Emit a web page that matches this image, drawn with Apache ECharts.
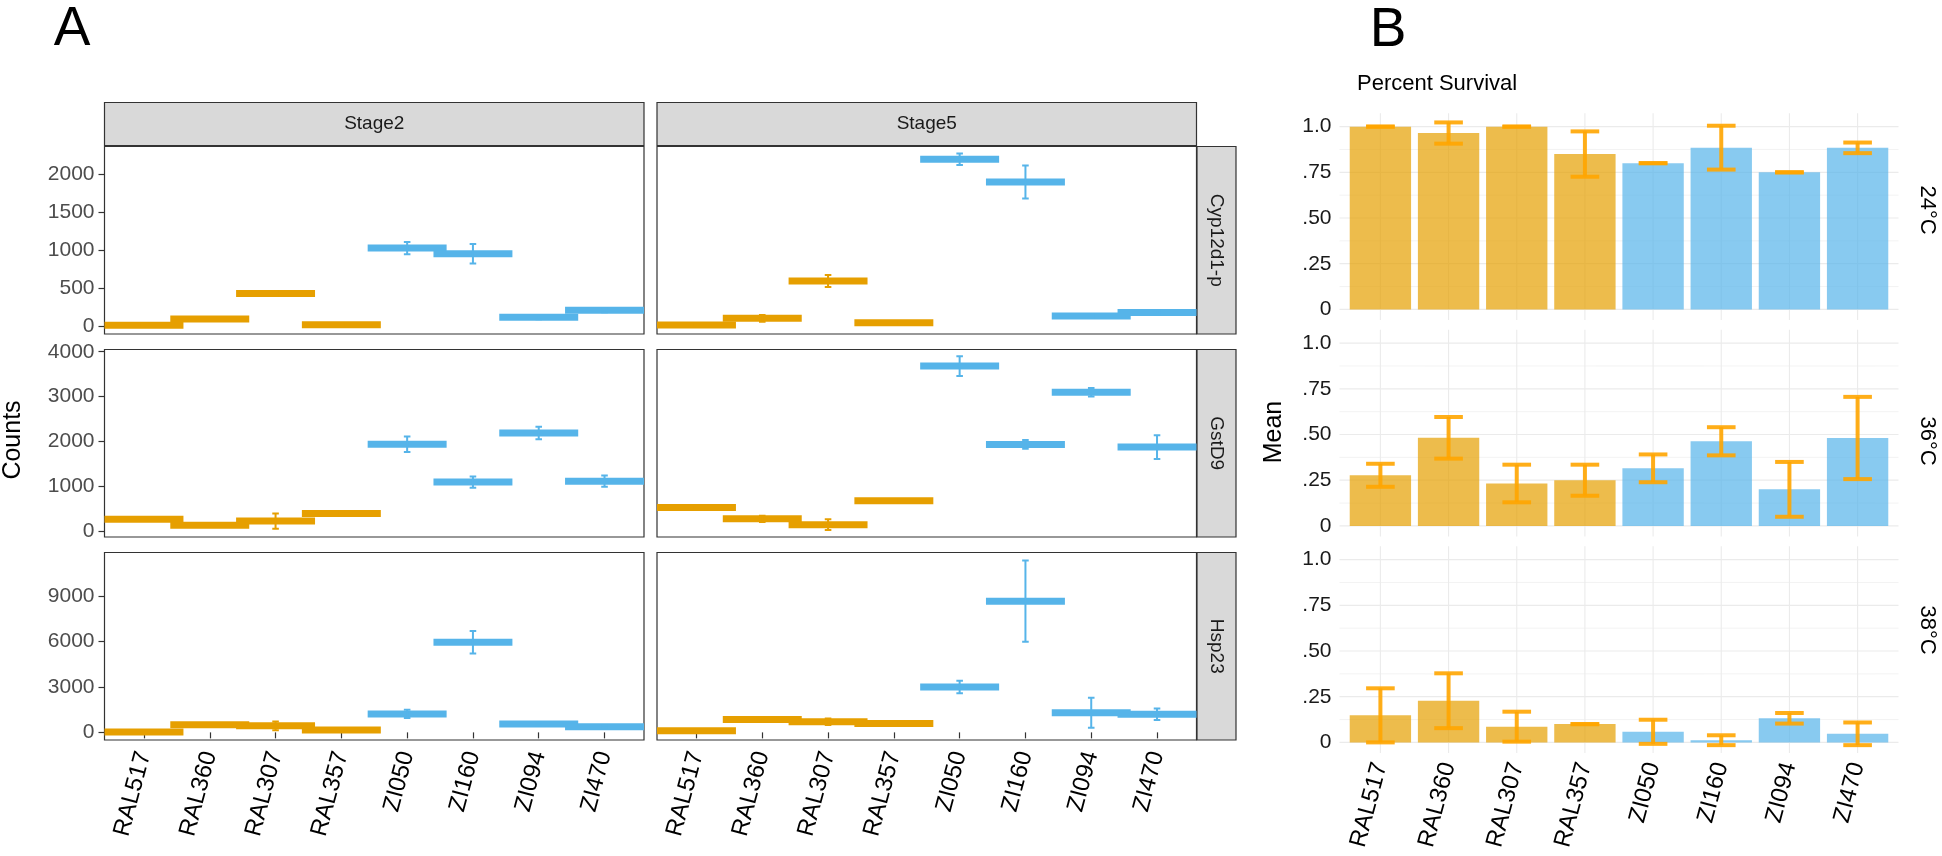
<!DOCTYPE html>
<html>
<head>
<meta charset="utf-8">
<script src="https://cdn.jsdelivr.net/npm/echarts@6.0.0/dist/echarts.min.js"></script>
<style>
  html, body { margin: 0; padding: 0; background: #fff; }
  #chart { width: 1942px; height: 856px; }
</style>
</head>
<body>
<div id="chart"></div>
<script>
var strains = ['RAL517', 'RAL360', 'RAL307', 'RAL357', 'ZI050', 'ZI160', 'ZI094', 'ZI470'];
var stages = ['Stage2', 'Stage5'];
var genes = ['Cyp12d1-p', 'GstD9', 'Hsp23'];
var temps = ['24°C', '36°C', '38°C'];

// A: counts, mean and se per gene / stage
var cypStage2 = [15, 96, 432, 22, 1026, 952, 118, 210];
var cypStage2Se = [10, 20, 25, 10, 80, 129, 25, 25];
var cypStage5 = [17, 105, 595, 48, 2190, 1893, 135, 183];
var cypStage5Se = [10, 45, 78, 10, 76, 216, 20, 25];
var gstStage2 = [262, 127, 220, 389, 1935, 1090, 2185, 1112];
var gstStage2Se = [30, 30, 172, 30, 175, 123, 138, 123];
var gstStage5 = [523, 270, 140, 673, 3680, 1932, 3095, 1872];
var gstStage5Se = [30, 70, 120, 40, 220, 100, 94, 265];
var hspStage2 = [20, 505, 430, 154, 1220, 5960, 549, 373];
var hspStage2Se = [50, 80, 296, 60, 274, 747, 80, 60];
var hspStage5 = [110, 856, 702, 593, 3000, 8680, 1300, 1200];
var hspStage5Se = [50, 100, 220, 60, 417, 2690, 988, 384];

var countMin = [-100, -135, -505];
var countMax = [2358, 4050, 11900];
var countTicks = [[0, 500, 1000, 1500, 2000], [0, 1000, 2000, 3000, 4000], [0, 3000, 6000, 9000]];

// B: percent survival, mean and se per temperature
var surv24 = [1.0, 0.965, 1.0, 0.85, 0.80, 0.885, 0.75, 0.884];
var surv24Se = [0, 0.058, 0, 0.124, 0, 0.12, 0, 0.029];
var surv36 = [0.277, 0.482, 0.232, 0.25, 0.315, 0.463, 0.2, 0.481];
var surv36Se = [0.063, 0.114, 0.103, 0.085, 0.076, 0.077, 0.15, 0.225];
var surv38 = [0.148, 0.228, 0.086, 0.1, 0.058, 0.012, 0.132, 0.047];
var surv38Se = [0.148, 0.15, 0.082, 0, 0.066, 0.027, 0.029, 0.062];

var survTicks = [0, 0.25, 0.5, 0.75, 1];
var survTickLabels = ['0', '.25', '.50', '.75', '1.0'];
var survMinor = [0.125, 0.375, 0.625, 0.875];

var ORANGE = '#E69F00', BLUE = '#56B4E9';
var FONT = '"Liberation Sans", Arial, sans-serif';

// layout (px)
var A_LEFT = [104.5, 657], A_W = 539.5;
var A_TOP = [146.5, 349.5, 552.5], A_H = 187.5;
var B_LEFT = 1339.5, B_W = 559;
var B_TOP = [113.3, 329.8, 546.3], B_H = 206.7;

var countTable = [
    [[cypStage2, cypStage2Se], [cypStage5, cypStage5Se]],
    [[gstStage2, gstStage2Se], [gstStage5, gstStage5Se]],
    [[hspStage2, hspStage2Se], [hspStage5, hspStage5Se]]
];
var survTable = [[surv24, surv24Se], [surv36, surv36Se], [surv38, surv38Se]];
var catPos = strains.map(function (s, i) { return i + 1; });

function strainColor(i) {
    return strains[i - 1].indexOf('RAL') === 0 ? ORANGE : BLUE;
}
function seg(x1, y1, x2, y2, color, w) {
    return { type: 'line', shape: { x1: x1, y1: y1, x2: x2, y2: y2 }, style: { stroke: color, lineWidth: w } };
}

// thick horizontal mark + thin error bar
function countItem(params, api) {
    var i = api.value(0), m = api.value(1), se = api.value(2);
    var col = strainColor(i);
    var mid = api.coord([i, m]);
    var l = api.coord([i - 0.6, m])[0], r = api.coord([i + 0.6, m])[0];
    var hi = api.coord([i, m + se])[1], lo = api.coord([i, m - se])[1];
    var cl = api.coord([i - 0.05, m])[0], cr = api.coord([i + 0.05, m])[0];
    return { type: 'group', children: [
        { type: 'rect', shape: { x: l, y: mid[1] - 3.5, width: r - l, height: 7 }, style: { fill: col } },
        seg(mid[0], hi, mid[0], lo, col, 2),
        seg(cl, hi, cr, hi, col, 2),
        seg(cl, lo, cr, lo, col, 2)
    ]};
}

// bar + orange error bar
function survItem(params, api) {
    var i = api.value(0), m = api.value(1), se = api.value(2);
    var col = strainColor(i) === ORANGE ? 'rgba(230,159,0,0.7)' : 'rgba(86,180,233,0.7)';
    var p0 = api.coord([i - 0.45, 0]), p1 = api.coord([i + 0.45, m]);
    var x = api.coord([i, m])[0];
    var hi = api.coord([i, m + se])[1], lo = api.coord([i, m - se])[1];
    var cl = api.coord([i - 0.21, m])[0], cr = api.coord([i + 0.21, m])[0];
    var ec = 'rgba(255,165,0,0.9)';
    return { type: 'group', children: [
        { type: 'rect', shape: { x: p0[0], y: p1[1], width: p1[0] - p0[0], height: p0[1] - p1[1] }, style: { fill: col } },
        seg(x, hi, x, lo, ec, 4),
        seg(cl, hi, cr, hi, ec, 4),
        seg(cl, lo, cr, lo, ec, 4)
    ]};
}

function hGrid(params, api) {
    var cs = params.coordSys;
    var y = api.coord([1, api.value(0)])[1];
    return seg(cs.x, y, cs.x + cs.width, y, '#EBEBEB', api.value(1));
}
function vGrid(params, api) {
    var cs = params.coordSys;
    var x = api.coord([api.value(0), 0])[0];
    return seg(x, cs.y, x, cs.y + cs.height, '#EBEBEB', 1.1);
}

var grids = [], xAxes = [], yAxes = [], series = [], graphics = [];

// panel A
for (var r = 0; r < 3; r++) {
    for (var c = 0; c < 2; c++) {
        var gi = grids.length;
        grids.push({ left: A_LEFT[c], top: A_TOP[r], width: A_W, height: A_H,
            show: true, borderColor: '#333333', borderWidth: 1.2, backgroundColor: '#fff' });
        xAxes.push({ type: 'value', gridIndex: gi, min: 0.4, max: 8.6,
            axisLine: { show: false }, splitLine: { show: false },
            axisTick: { show: r === 2, customValues: catPos, length: 6, lineStyle: { color: '#333', width: 1.2 } },
            axisLabel: { show: r === 2, customValues: catPos, rotate: 75, margin: 12,
                fontSize: 24, fontFamily: FONT, color: '#000',
                formatter: function (v) { return strains[Math.round(v) - 1]; } } });
        yAxes.push({ type: 'value', gridIndex: gi, min: countMin[r], max: countMax[r],
            axisLine: { show: false }, splitLine: { show: false },
            axisTick: { show: c === 0, customValues: countTicks[r], length: 6, lineStyle: { color: '#333', width: 1.2 } },
            axisLabel: { show: c === 0, customValues: countTicks[r], margin: 10,
                fontSize: 21, fontFamily: FONT, color: '#4D4D4D',
                formatter: function (v) { return String(v); } } });
        var src = countTable[r][c];
        series.push({ type: 'custom', xAxisIndex: gi, yAxisIndex: gi, clip: true,
            renderItem: countItem,
            data: catPos.map(function (p, k) { return [p, src[0][k], src[1][k]]; }) });
    }
}

// panel B
for (var t = 0; t < 3; t++) {
    var bi = grids.length;
    grids.push({ left: B_LEFT, top: B_TOP[t], width: B_W, height: B_H, show: false });
    xAxes.push({ type: 'value', gridIndex: bi, min: 0.4, max: 8.6,
        axisLine: { show: false }, splitLine: { show: false }, axisTick: { show: false },
        axisLabel: { show: t === 2, customValues: catPos, rotate: 75, margin: 10,
            fontSize: 24, fontFamily: FONT, color: '#000',
            formatter: function (v) { return strains[Math.round(v) - 1]; } } });
    yAxes.push({ type: 'value', gridIndex: bi, min: -0.058, max: 1.073,
        axisLine: { show: false }, splitLine: { show: false }, axisTick: { show: false },
        axisLabel: { customValues: survTicks, margin: 8, fontSize: 21, fontFamily: FONT, color: '#1a1a1a',
            formatter: function (v) { return survTickLabels[survTicks.indexOf(v)]; } } });
    series.push({ type: 'custom', xAxisIndex: bi, yAxisIndex: bi, z: 1, renderItem: hGrid,
        data: survTicks.map(function (v) { return [v, 1.2]; }).concat(survMinor.map(function (v) { return [v, 0.6]; })) });
    series.push({ type: 'custom', xAxisIndex: bi, yAxisIndex: bi, z: 1, renderItem: vGrid,
        data: catPos.map(function (p) { return [p, 0]; }) });
    var sv = survTable[t];
    series.push({ type: 'custom', xAxisIndex: bi, yAxisIndex: bi, z: 2, renderItem: survItem,
        data: catPos.map(function (p, k) { return [p, sv[0][k], sv[1][k]]; }) });
}

function txt(s, x, y, size, color, rot, align) {
    return { type: 'text', x: x, y: y, rotation: rot || 0, z: 10,
        style: { text: s, fontSize: size, fontFamily: FONT, fill: color,
            align: align || 'center', verticalAlign: 'middle' } };
}

// strips for A
stages.forEach(function (s, c) {
    graphics.push({ type: 'rect', shape: { x: A_LEFT[c], y: 102.5, width: A_W, height: 43 },
        style: { fill: '#D9D9D9', stroke: '#333333', lineWidth: 1.2 } });
    graphics.push(txt(s, A_LEFT[c] + A_W / 2, 124, 19, '#1A1A1A'));
});
genes.forEach(function (g, r) {
    graphics.push({ type: 'rect', shape: { x: 1197, y: A_TOP[r], width: 39, height: A_H },
        style: { fill: '#D9D9D9', stroke: '#333333', lineWidth: 1.2 } });
    graphics.push(txt(g, 1216.5, A_TOP[r] + A_H / 2, 19, '#1A1A1A', -Math.PI / 2));
});
var tempY = [210, 441, 630];
temps.forEach(function (s, t) {
    graphics.push(txt(s, 1927, tempY[t], 22, '#000', -Math.PI / 2));
});
graphics.push(txt('A', 72, 30, 55, '#000'));
graphics.push(txt('B', 1388, 31, 55, '#000'));
graphics.push(txt('Counts', 13, 440, 25, '#000', Math.PI / 2));
graphics.push(txt('Mean', 1274, 432, 25, '#000', Math.PI / 2));
graphics.push(txt('Percent Survival', 1357, 84, 22, '#000', 0, 'left'));

var chart = echarts.init(document.getElementById('chart'));
chart.setOption({
    animation: false,
    backgroundColor: '#fff',
    grid: grids,
    xAxis: xAxes,
    yAxis: yAxes,
    series: series,
    graphic: graphics
});
</script>
</body>
</html>
